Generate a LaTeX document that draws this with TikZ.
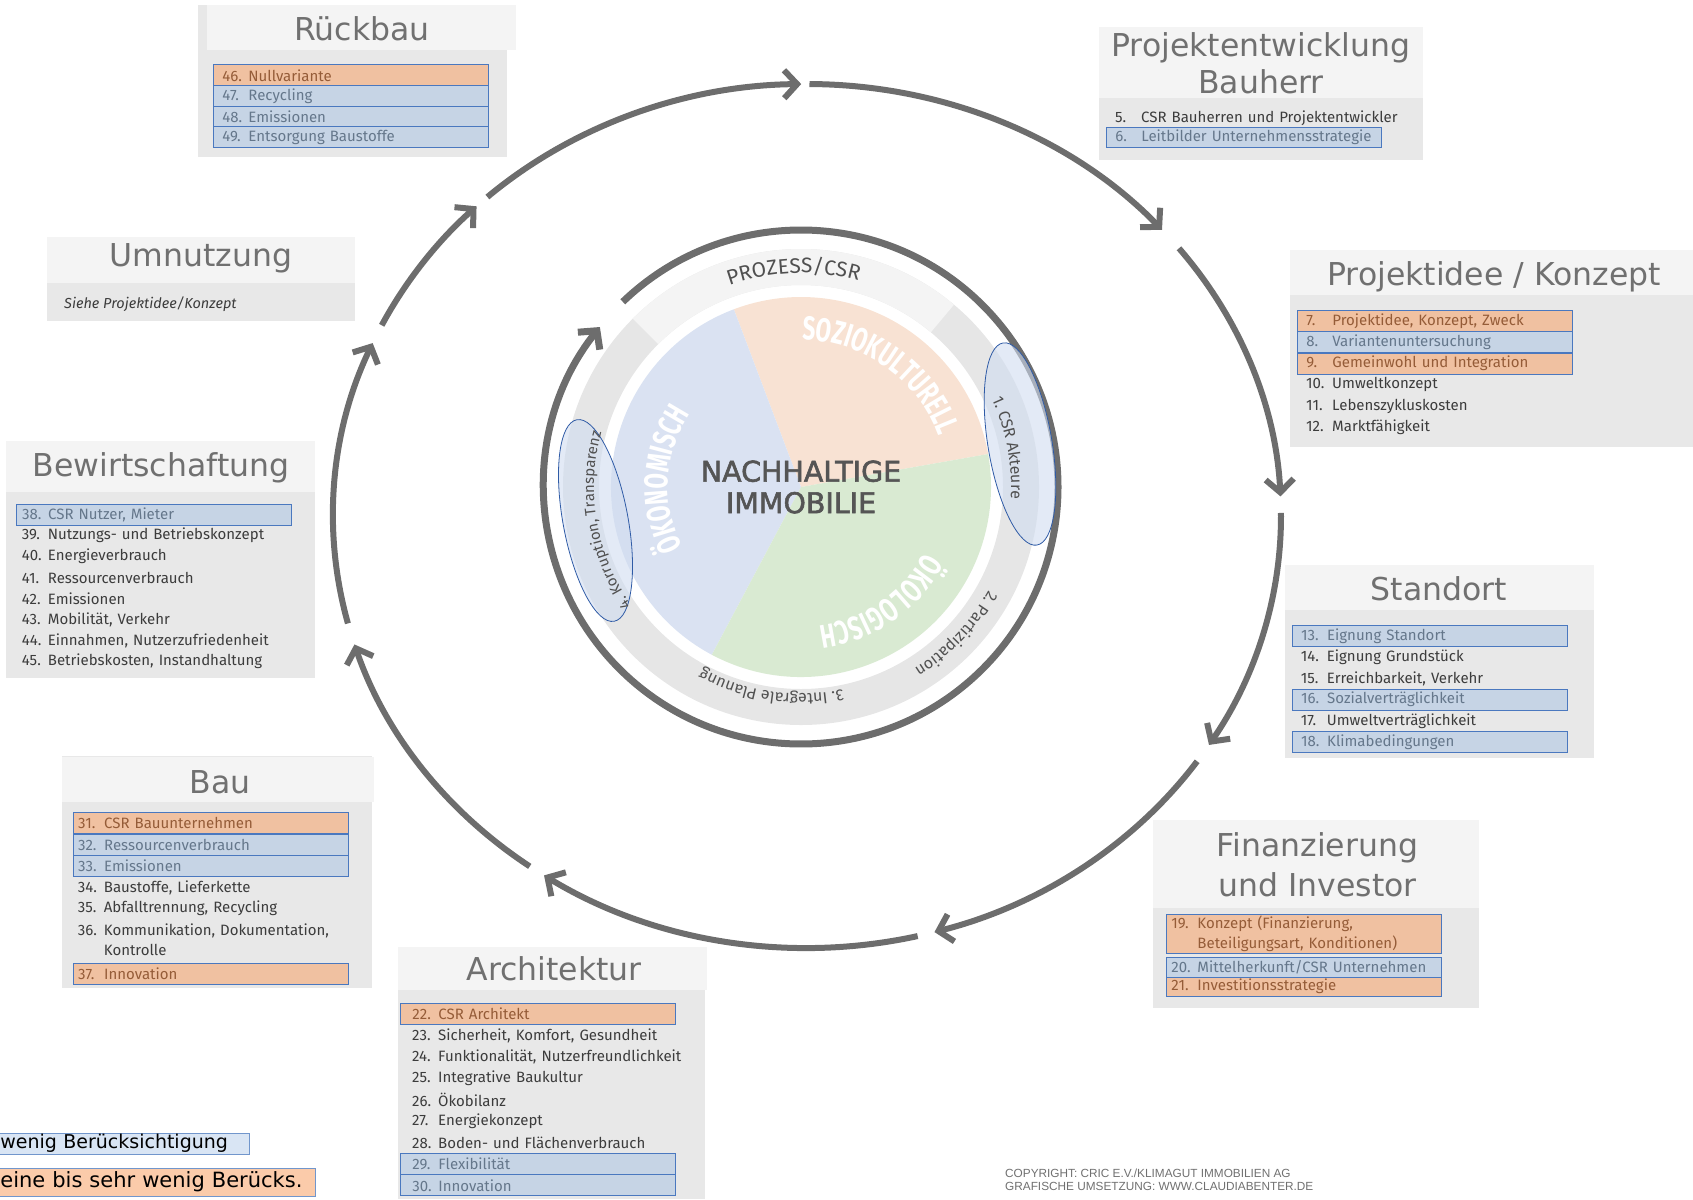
\documentclass[tikz,border=0pt]{standalone}
\usepackage{fontspec}
\setmainfont{Fira Sans}
\newfontfamily\titlefont{DejaVu Sans}
\newfontfamily\ctrfont[FakeBold=2]{DejaVu Sans}
\newfontfamily\creditfont{Liberation Sans}
\newfontfamily\piefont[FakeStretch=0.68]{Fira Sans}
\usetikzlibrary{arrows.meta,decorations.text}

\definecolor{ringgray}{HTML}{6D6D6D}
\definecolor{bodygray}{HTML}{E8E8E8}
\definecolor{headgray}{HTML}{F4F4F4}
\definecolor{titlegray}{HTML}{707070}
\definecolor{txtgray}{HTML}{3C3C3C}
\definecolor{ofill}{HTML}{F0C1A1}
\definecolor{otext}{HTML}{955C38}
\definecolor{bfill}{HTML}{C6D4E5}
\definecolor{btext}{HTML}{65778B}
\definecolor{rowline}{HTML}{4A78BF}
\definecolor{sozcol}{HTML}{F8E2D3}
\definecolor{oekcol}{HTML}{DAE2F2}
\definecolor{ecocol}{HTML}{D9EAD2}
\definecolor{bandgray}{HTML}{E6E6E6}
\definecolor{bandlight}{HTML}{F4F4F4}
\definecolor{ovalfill}{HTML}{D0DCF0}
\definecolor{ovalline}{HTML}{2F5BA6}
\definecolor{ringtxt}{HTML}{505050}
\definecolor{centergray}{HTML}{555555}
\definecolor{lgblue}{HTML}{D9E5F4}
\definecolor{lgorange}{HTML}{FBCBAA}
\definecolor{lgline}{HTML}{7196CC}

\newcommand{\itm}[2]{\mbox{\makebox[26pt][l]{#1}#2}}
\newcommand{\ringlbl}{\fontsize{16}{18}\selectfont}
\newcommand{\pielbl}{\piefont\bfseries\fontsize{33}{36}\selectfont}
\newcommand{\rowins}{9pt}

\begin{document}
\begin{tikzpicture}[x=1pt,y=1pt,
  body/.style={fill=bodygray},
  head/.style={fill=headgray},
  ttl/.style={anchor=base, inner sep=0pt, text=titlegray,
    font=\titlefont\fontsize{31.5}{37}\selectfont},
  row/.style={anchor=west, minimum height=21pt, inner ysep=0pt,
    inner xsep=\rowins, text width=275pt-2*\rowins, align=left,
    font=\fontsize{15}{20.5}\selectfont},
  prow/.style={row, text=txtgray},
  orow/.style={row, fill=ofill, draw=rowline, line width=0.9pt, text=otext},
  brow/.style={row, fill=bfill, draw=rowline, line width=0.9pt, text=btext},
  ring/.style={draw=ringgray, line width=6pt},
  cyc/.style={-{Straight Barb[length=13pt,width=28pt]}},
  oval/.style={fill=ovalfill, fill opacity=0.6, draw=ovalline, line width=0.8pt},
  ringtext/.style={decorate, decoration={text along path, text align=center,
    text color=ringtxt, text={|\ringlbl|#1}}},
  pietext/.style={decorate, decoration={text along path, text align=center,
    text color=white, text={|\pielbl|#1}}},
]
\useasboundingbox (0,0) rectangle (1693,-1199);

% outer cycle
\coordinate (octr) at (807,-516);
\foreach \a/\b in {132.4/90.7, 89.7/41.5, 38.3/2.6, 0.4/-32, -34.6/-74.4, -76.5/-123.7, -125.8/-162.7, -165.6/-203.6, -206.2/-225.8}
  \draw[ring, cyc] (octr) ++(\a:474 and 432) arc[start angle=\a, end angle=\b, x radius=474, y radius=432];

% inner circle
\coordinate (ctr) at (801,-487);
\fill[bandgray, even odd rule] (ctr) circle[radius=238] (ctr) circle[radius=202];
\fill[bandlight] (ctr) ++(50:238) arc[start angle=50, end angle=135, radius=238] -- ++(135:-36) arc[start angle=135, end angle=50, radius=202] -- cycle;
\fill[sozcol] (ctr) -- ++(10:190) arc[start angle=10, end angle=110.7, radius=190] -- cycle;
\fill[oekcol] (ctr) -- ++(110.7:190) arc[start angle=110.7, end angle=242, radius=190] -- cycle;
\fill[ecocol] (ctr) -- ++(242:190) arc[start angle=242, end angle=370, radius=190] -- cycle;
\draw[ring, line width=7pt, cyc] (ctr) ++(133.9:257) arc[start angle=133.9, end angle=-218.5, radius=257];

\draw[oval, rotate around={9.5:(1020,-444)}] (1020,-444) ellipse[x radius=32, y radius=102.5];
\draw[oval, rotate around={10.5:(595.5,-520.5)}] (595.5,-520.5) ellipse[x radius=32.5, y radius=102.5];

\path[decorate, decoration={text along path, text align=center, text color=ringtxt,
  text={|\fontsize{21}{23}\selectfont|PROZESS/CSR}}]
  (ctr) ++(152:214) arc[start angle=152, end angle=32, radius=214];
\path[ringtext={1. CSR Akteure}] (ctr) ++(70.7:210) arc[start angle=70.7, end angle=-49.3, radius=210];
\path[ringtext={2. Partizipation}] (ctr) ++(16.6:214) arc[start angle=16.6, end angle=-103.4, radius=214];
\path[ringtext={3. Integrale Planung}] (ctr) ++(-38.4:207) arc[start angle=-38.4, end angle=-158.4, radius=207];
\path[decorate, decoration={text along path, text align=center, text color=ringtxt,
  text={|\fontsize{15}{17}\selectfont|4. Korruption, Transparenz}}]
  (ctr) ++(249.7:207) arc[start angle=249.7, end angle=129.7, radius=207];

\path[pietext={SOZIOKULTURELL}] (ctr) ++(124.8:147) arc[start angle=124.8, end angle=-15.2, radius=147];
\path[pietext={ÖKONOMISCH}] (ctr) ++(246.6:133) arc[start angle=246.6, end angle=106.6, radius=133];
\path[pietext={ÖKOLOGISCH}] (ctr) ++(14.6:140) arc[start angle=14.6, end angle=-125.4, radius=140];

\node[font=\ctrfont\fontsize{28.5}{31.5}\selectfont, text=centergray, align=center] (immo) at (801,-487) {NACHHALTIGE\\IMMOBILIE};

% Rueckbau
\fill[body] (198,-5) rectangle (507,-157);
\fill[head] (207,-5) rectangle (516,-50);
\node[ttl] (t-rueck) at (362,-41) {Rückbau};
\def\rowins{9pt}
\foreach \n/\t/\s/\y in {46/Nullvariante/orow/75.3, 47/Recycling/brow/96, 48/Emissionen/brow/116.7, 49/Entsorgung Baustoffe/brow/137.3}
  \node[\s] (r\n) at (213,-\y) {\itm{\n.}{\t}};

% Projektentwicklung Bauherr
\fill[body] (1099,-27) rectangle (1423,-160);
\fill[head] (1099,-27) rectangle (1423,-98);
\node[ttl] (t-pe1) at (1261,-56.5) {Projektentwicklung};
\node[ttl] (t-pe2) at (1261,-93.5) {Bauherr};
\foreach \n/\t/\s/\y in {5/CSR Bauherren und Projektentwickler/prow/118, 6/Leitbilder Unternehmensstrategie/brow/137.5}
  \node[\s, minimum height=19.5pt] (r\n) at (1106,-\y) {\itm{\n.}{\t}};

% Projektidee / Konzept
\fill[body] (1290,-250) rectangle (1693,-447);
\fill[head] (1290,-250) rectangle (1693,-295);
\node[ttl] (t-idee) at (1494,-285) {Projektidee / Konzept};
\foreach \n/\t/\s/\y in {7/{Projektidee, Konzept, Zweck}/orow/321.2, 8/Variantenuntersuchung/brow/342.4, 9/Gemeinwohl und Integration/orow/363.6, 10/Umweltkonzept/prow/384.8, 11/Lebenszykluskosten/prow/406, 12/Marktfähigkeit/prow/427.2}
  \node[\s] (r\n) at (1297,-\y) {\itm{\n.}{\t}};

% Standort
\fill[body] (1285,-565) rectangle (1594,-758);
\fill[head] (1285,-565) rectangle (1594,-610);
\node[ttl] (t-stand) at (1439,-600.5) {Standort};
\foreach \n/\t/\s/\y in {13/Eignung Standort/brow/636, 14/Eignung Grundstück/prow/657.2, 15/{Erreichbarkeit, Verkehr}/prow/678.4, 16/Sozialverträglichkeit/brow/699.6, 17/Umweltverträglichkeit/prow/720.8, 18/Klimabedingungen/brow/742}
  \node[\s] (r\n) at (1291.7,-\y) {\itm{\n.}{\t}};

% Finanzierung und Investor
\fill[body] (1153,-820) rectangle (1479,-1008);
\fill[head] (1153,-820) rectangle (1479,-908);
\node[ttl] (t-fin1) at (1317.5,-856.7) {Finanzierung};
\node[ttl] (t-fin2) at (1317.5,-896) {und Investor};
\def\rowins{5pt}
\node[orow, minimum height=39pt] (r19) at (1166,-933.5) {\itm{19.}{Konzept (Finanzierung,}\\\hspace*{26pt}Beteiligungsart, Konditionen)};
\foreach \n/\t/\s/\y in {20/{Mittelherkunft/CSR Unternehmen}/brow/967.2, 21/Investitionsstrategie/orow/986.7}
  \node[\s, minimum height=19.5pt] (r\n) at (1166,-\y) {\itm{\n.}{\t}};

% Architektur
\fill[body] (398,-947) rectangle (705,-1199);
\fill[head] (398,-947) rectangle (707,-990);
\node[ttl] (t-arch) at (554,-980) {Architektur};
\def\rowins{12pt}
\foreach \n/\t/\s/\y in {22/CSR Architekt/orow/1014.2, 23/{Sicherheit, Komfort, Gesundheit}/prow/1035.6, 24/{Funktionalität, Nutzerfreundlichkeit}/prow/1057, 25/Integrative Baukultur/prow/1078.4, 26/Ökobilanz/prow/1099.8, 27/Energiekonzept/prow/1121.2, 28/Boden- und Flächenverbrauch/prow/1142.6, 29/Flexibilität/brow/1164, 30/Innovation/brow/1185.4}
  \node[\s] (r\n) at (400,-\y) {\itm{\n.}{\t}};

% Bau
\fill[body] (62,-756) rectangle (372,-988);
\fill[head] (62,-757) rectangle (374,-802);
\node[ttl] (t-bau) at (220,-793.3) {Bau};
\def\rowins{5pt}
\foreach \n/\t/\s/\y in {31/CSR Bauunternehmen/orow/823, 32/Ressourcenverbrauch/brow/844.5, 33/Emissionen/brow/866, 34/{Baustoffe, Lieferkette}/prow/887.7, 35/{Abfalltrennung, Recycling}/prow/908.5, 37/Innovation/orow/973.8}
  \node[\s] (r\n) at (72.7,-\y) {\itm{\n.}{\t}};
\node[prow, minimum height=42pt] (r36) at (72.7,-939.5) {\itm{36.}{Kommunikation, Dokumentation,}\\\hspace*{26pt}Kontrolle};

% Bewirtschaftung
\fill[body] (6,-441) rectangle (315,-678);
\fill[head] (6,-441) rectangle (315,-492);
\node[ttl] (t-bew) at (161,-476.7) {Bewirtschaftung};
\def\rowins{5.7pt}
\foreach \n/\t/\s/\y in {38/{CSR Nutzer, Mieter}/brow/514.5, 39/Nutzungs- und Betriebskonzept/prow/535.5, 40/Energieverbrauch/prow/556.5, 41/Ressourcenverbrauch/prow/577.5, 42/Emissionen/prow/598.5, 43/{Mobilität, Verkehr}/prow/619.5, 44/{Einnahmen, Nutzerzufriedenheit}/prow/640.5, 45/{Betriebskosten, Instandhaltung}/prow/661.5}
  \node[\s] (r\n) at (16,-\y) {\itm{\n.}{\t}};

% Umnutzung
\fill[body] (47,-237) rectangle (355,-321);
\fill[head] (47,-237) rectangle (355,-283);
\node[ttl] (t-umn) at (201,-266.7) {Umnutzung};
\node[anchor=west, inner sep=0pt, text=txtgray, font=\itshape\fontsize{14.5}{16}\selectfont] (umn-ref) at (64,-304) {Siehe Projektidee/Konzept};

% legend
\node[anchor=west, fill=lgblue, draw=lgline, line width=0.8pt, minimum width=251pt, minimum height=21pt, inner xsep=2pt, inner ysep=0pt, text width=247pt, font=\titlefont\fontsize{19}{21}\selectfont, text=black] (lg-wenig) at (-2,-1143.5) {wenig Berücksichtigung};
\node[anchor=west, fill=lgorange, draw=lgline, line width=0.8pt, minimum width=317pt, minimum height=28pt, inner xsep=2pt, inner ysep=0pt, text width=313pt, font=\titlefont\fontsize{21}{23}\selectfont, text=black] (lg-keine) at (-2,-1182) {eine bis sehr wenig Berücks.};

% credits
\node[anchor=west, align=left, inner sep=0pt, text=titlegray, font=\creditfont\fontsize{11.8}{13}\selectfont] (credit) at (1005,-1179.5) {COPYRIGHT: CRIC E.V./KLIMAGUT IMMOBILIEN AG\\GRAFISCHE UMSETZUNG: WWW.CLAUDIABENTER.DE};
\end{tikzpicture}
\end{document}
